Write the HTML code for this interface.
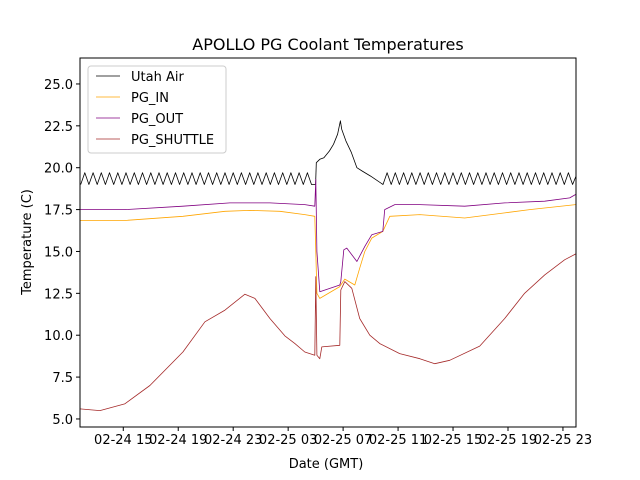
<!DOCTYPE html>
<html><head><meta charset="utf-8"><style>
body{margin:0;background:#fff;}
svg{display:block;font-family:"DejaVu Sans","Liberation Sans",sans-serif;}
</style></head><body>
<svg id="chart" width="640" height="480" xmlns="http://www.w3.org/2000/svg">
<rect width="640" height="480" fill="#fff"/>
<text x="328" y="50" font-size="16" text-anchor="middle">APOLLO PG Coolant Temperatures</text>
<g id="plot"></g>
<rect x="80" y="58" width="496" height="369" fill="none" stroke="#000" stroke-width="1"/>
<text x="326" y="468" font-size="13" text-anchor="middle">Date (GMT)</text>
<text x="0" y="0" font-size="13" text-anchor="middle" transform="translate(31,242) rotate(-90)">Temperature (C)</text>
<g>
<rect x="88" y="66" width="138" height="87" rx="3" fill="#fff" fill-opacity="0.8" stroke="#ccc"/>
<line x1="96" y1="76" x2="120" y2="76" stroke="#000" stroke-width="0.7"/><text x="131" y="81" font-size="13">Utah Air</text>
<line x1="96" y1="97" x2="120" y2="97" stroke="orange" stroke-width="0.7"/><text x="131" y="102" font-size="13">PG_IN</text>
<line x1="96" y1="118" x2="120" y2="118" stroke="purple" stroke-width="0.7"/><text x="131" y="123" font-size="13">PG_OUT</text>
<line x1="96" y1="139" x2="120" y2="139" stroke="brown" stroke-width="0.7"/><text x="131" y="144" font-size="13">PG_SHUTTLE</text>
</g>
</svg>
<script>
// hours since 02-24 00:00 GMT
const xTickHours=[15,19,23,27,31,35,39,43,47];
const xTickLabels=["02-24 15","02-24 19","02-24 23","02-25 03","02-25 07","02-25 11","02-25 15","02-25 19","02-25 23"];
const yTicks=[5.0,7.5,10.0,12.5,15.0,17.5,20.0,22.5,25.0];
const airHours=[11.9,12.2,12.5,12.8,13.1,13.4,13.7,14.0,14.3,14.6,14.9,15.2,15.5,15.8,16.1,16.4,16.7,17.0,17.3,17.6,17.9,18.2,18.5,18.8,19.1,19.4,19.7,20.0,20.3,20.6,20.9,21.2,21.5,21.8,22.1,22.4,22.7,23.0,23.3,23.6,23.9,24.2,24.5,24.8,25.1,25.4,25.7,26.0,26.3,26.6,26.9,27.2,27.5,27.8,28.1,28.4,28.7,
29.0,29.05,29.3,29.6,30.0,30.3,30.6,30.8,30.9,31.2,31.6,32.0,32.4,33.0,33.9,
34.2,34.5,34.8,35.1,35.4,35.7,36.0,36.3,36.6,36.9,37.2,37.5,37.8,38.1,38.4,38.7,39.0,39.3,39.6,39.9,40.2,40.5,40.8,41.1,41.4,41.7,42.0,42.3,42.6,42.9,43.2,43.5,43.8,44.1,44.4,44.7,45.0,45.3,45.6,45.9,46.2,46.5,46.8,47.1,47.4,47.7,47.95];
const airTemps=[19.0,19.7,19.0,19.7,19.0,19.7,19.0,19.7,19.0,19.7,19.0,19.7,19.0,19.7,19.0,19.7,19.0,19.7,19.0,19.7,19.0,19.7,19.0,19.7,19.0,19.7,19.0,19.7,19.0,19.7,19.0,19.7,19.0,19.7,19.0,19.7,19.0,19.7,19.0,19.7,19.0,19.7,19.0,19.7,19.0,19.7,19.0,19.7,19.0,19.7,19.0,19.7,19.0,19.7,19.0,19.7,19.0,
19.0,20.3,20.5,20.6,21.0,21.4,22.0,22.8,22.3,21.6,20.9,20.0,19.8,19.5,19.0,
19.7,19.0,19.7,19.0,19.7,19.0,19.7,19.0,19.7,19.0,19.7,19.0,19.7,19.0,19.7,19.0,19.7,19.0,19.7,19.0,19.7,19.0,19.7,19.0,19.7,19.0,19.7,19.0,19.7,19.0,19.7,19.0,19.7,19.0,19.7,19.0,19.7,19.0,19.7,19.0,19.7,19.0,19.7,19.0,19.7,19.0,19.5];
const inHours=[11.85,15.1,19.34,22.4,24.21,26.4,28.21,28.94,29.01,29.09,29.3,30.76,30.83,31.12,31.85,32.21,32.58,33.09,33.89,34.4,36.58,39.85,42.76,44.58,47.92];
const inTemps=[16.85,16.85,17.1,17.4,17.45,17.4,17.2,17.1,15.0,12.5,12.2,12.9,13.0,13.35,13.0,14.0,15.0,15.8,16.2,17.1,17.2,17.0,17.3,17.5,17.8];
const outHours=[11.85,15.1,19.34,22.76,25.67,28.21,28.94,29.01,29.09,29.3,30.76,30.83,31.05,31.27,32.0,32.58,33.09,33.89,34.03,34.76,36.58,39.85,42.76,45.67,47.49,47.92];
const outTemps=[17.5,17.5,17.7,17.9,17.9,17.8,17.7,19.3,15.0,12.6,13.0,13.2,15.1,15.2,14.4,15.3,16.0,16.2,17.5,17.8,17.8,17.7,17.9,18.0,18.2,18.4];
const shHours=[11.85,13.3,15.1,16.94,19.34,20.94,22.4,23.85,24.58,25.67,26.76,27.49,28.21,28.94,29.01,29.09,29.3,29.45,30.76,30.83,31.12,31.63,32.21,32.94,33.67,35.12,36.58,37.67,38.76,40.94,42.76,44.21,45.67,47.12,47.92];
const shTemps=[5.6,5.5,5.9,7.0,9.0,10.8,11.5,12.45,12.2,11.0,9.96,9.5,9.0,8.8,13.5,8.8,8.6,9.3,9.4,12.7,13.2,12.8,11.0,10.0,9.5,8.9,8.6,8.3,8.5,9.35,11.0,12.5,13.6,14.5,14.85];

const X0=80,X1=576,Y0=427,Y1=58;
const hMin=11.85,hMax=47.95,tMin=4.52,tMax=26.55;
const sx=h=>X0+(h-hMin)/(hMax-hMin)*(X1-X0);
const sy=t=>Y0-(t-tMin)/(tMax-tMin)*(Y0-Y1);
const NS="http://www.w3.org/2000/svg";
const plot=document.getElementById('plot');
function mk(tag,attrs){const e=document.createElementNS(NS,tag);for(const k in attrs)e.setAttribute(k,attrs[k]);return e;}

xTickHours.forEach((h,i)=>{
  const g=mk('g',{});
  
  
  g.appendChild(mk('line',{x1:sx(h),x2:sx(h),y1:Y0,y2:Y0+4,stroke:'#000'}));
  const t=mk('text',{x:sx(h),y:Y0+17,'font-size':13,'text-anchor':'middle'});
  t.textContent=xTickLabels[i];g.appendChild(t);plot.appendChild(g);
});
yTicks.forEach(v=>{
  const g=mk('g',{});
  
  
  g.appendChild(mk('line',{x1:X0-4,x2:X0,y1:sy(v),y2:sy(v),stroke:'#000'}));
  const t=mk('text',{x:X0-7,y:sy(v)+5,'font-size':13,'text-anchor':'end'});
  t.textContent=v.toFixed(1);g.appendChild(t);plot.appendChild(g);
});
function line(hs,ts,color,name,w){
  const d=hs.map((h,i)=>(i?'L':'M')+sx(h).toFixed(1)+','+sy(ts[i]).toFixed(1)).join('');
  const p=mk('path',{d:d,fill:'none',stroke:color,'stroke-width':w,'stroke-linejoin':'round'});
  
  
  plot.appendChild(p);
}
line(airHours,airTemps,'#000','utah-air-line',0.8);
line(inHours,inTemps,'orange','pg-in-line',0.8);
line(outHours,outTemps,'purple','pg-out-line',0.8);
line(shHours,shTemps,'brown','pg-shuttle-line',0.8);
</script>
</body></html>
